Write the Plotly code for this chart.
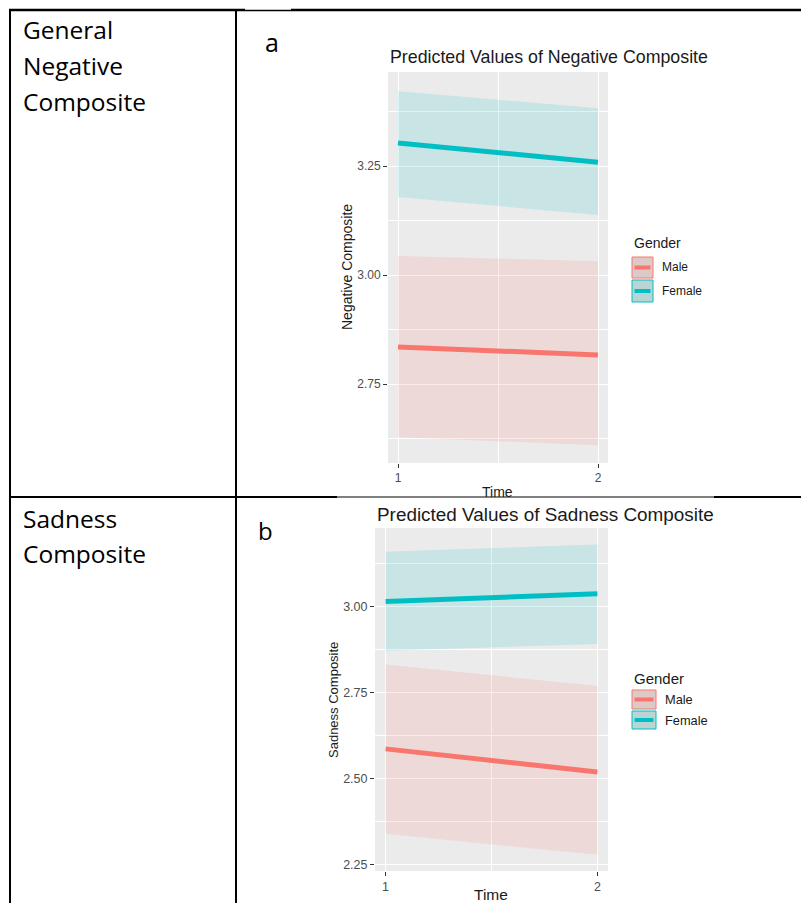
import plotly.graph_objects as go

W, H = 801, 903

# ---------------- data ----------------
time = [1, 2]
time_labels = ["1", "2"]
genders = ["Male", "Female"]
colors = {"Male": "#F8766D", "Female": "#00BFC4"}
bands = {"Male": "rgba(248,118,109,0.15)", "Female": "rgba(0,191,196,0.15)"}

neg_male = [2.835, 2.817]
neg_male_lo = [2.628, 2.610]
neg_male_hi = [3.044, 3.032]
neg_female = [3.303, 3.259]
neg_female_lo = [3.179, 3.138]
neg_female_hi = [3.422, 3.383]

sad_male = [2.587, 2.520]
sad_male_lo = [2.340, 2.279]
sad_male_hi = [2.832, 2.770]
sad_female = [3.015, 3.038]
sad_female_lo = [2.872, 2.892]
sad_female_hi = [3.160, 3.181]

row_labels = [["General", "Negative", "Composite"], ["Sadness", "Composite"]]
panel_letters = ["a", "b"]
titles = ["Predicted Values of Negative Composite", "Predicted Values of Sadness Composite"]
ytitles = ["Negative Composite", "Sadness Composite"]


def px(x):
    return x / W


def py(y):
    return 1 - y / H


fig = go.Figure()

series = [
    ("x", "y", {"Male": (neg_male, neg_male_lo, neg_male_hi),
                "Female": (neg_female, neg_female_lo, neg_female_hi)}),
    ("x2", "y2", {"Male": (sad_male, sad_male_lo, sad_male_hi),
                  "Female": (sad_female, sad_female_lo, sad_female_hi)}),
]

for xa, ya, d in series:
    for g in genders:
        mid, lo, hi = d[g]
        fig.add_trace(go.Scatter(
            x=time + time[::-1], y=hi + lo[::-1], fill="toself",
            fillcolor=bands[g], line=dict(width=0), mode="lines",
            hoverinfo="skip", showlegend=False, xaxis=xa, yaxis=ya))
    for g in genders:
        mid, lo, hi = d[g]
        fig.add_trace(go.Scatter(
            x=time, y=mid, mode="lines", name=g,
            line=dict(color=colors[g], width=5),
            showlegend=False, xaxis=xa, yaxis=ya))

FONT = "Liberation Sans, Arial, sans-serif"

def yaxis_cfg(domain, rng, fs):
    return dict(domain=domain, range=rng, tickmode="linear", tick0=0, dtick=0.25,
                tickformat=".2f", ticks="outside", ticklen=4, tickcolor="#333333",
                tickwidth=1, showgrid=True, gridcolor="white", gridwidth=1.2,
                zeroline=False, showline=False,
                tickfont=dict(family=FONT, size=fs, color="#4D4D4D"),
                minor=dict(tickmode="linear", tick0=0, dtick=0.125, showgrid=True,
                           gridcolor="white", gridwidth=0.6))

def xaxis_cfg(domain, anchor, fs):
    return dict(domain=domain, anchor=anchor, range=[0.95, 2.05], tickmode="array",
                tickvals=time, ticktext=time_labels, ticks="outside", ticklen=4,
                tickcolor="#333333", tickwidth=1, showgrid=True, gridcolor="white",
                gridwidth=1.2, zeroline=False, showline=False,
                tickfont=dict(family=FONT, size=fs, color="#4D4D4D"),
                minor=dict(tickvals=[1.5], showgrid=True, gridcolor="white", gridwidth=0.6))

fig.update_layout(
    width=W, height=H, margin=dict(l=0, r=0, t=0, b=0),
    paper_bgcolor="white", plot_bgcolor="#EBEBEB", showlegend=False,
    xaxis=xaxis_cfg([px(388), px(608)], "y", 12),
    yaxis=dict(anchor="x", **yaxis_cfg([py(463), py(72)], [2.569, 3.466], 12)),
    xaxis2=xaxis_cfg([px(375), px(608)], "y2", 12.5),
    yaxis2=dict(anchor="x2", **yaxis_cfg([py(871), py(528)], [2.232, 3.229], 12.5)),
)

ann = []

def text(t, x, y, size, family=FONT, color="#1A1A1A", xanchor="left", angle=0):
    ann.append(dict(text=t, x=px(x), y=py(y), xref="paper", yref="paper",
                    xanchor=xanchor, yanchor="middle", showarrow=False, textangle=angle,
                    font=dict(family=family, size=size, color=color)))

TFONT = "Open Sans, sans-serif"
# left column labels
for i, w in enumerate(row_labels[0]):
    text(w, 21, 30 + 35.5 * i, 24.5, family=TFONT, color="black")
for i, w in enumerate(row_labels[1]):
    text(w, 21, 518 + 35.5 * i, 24.5, family=TFONT, color="black")
text(panel_letters[0], 263, 42, 25, family=TFONT, color="black")
text(panel_letters[1], 256, 530, 24, family=TFONT, color="black")

# chart titles
text(titles[0], 388, 57, 17.8)
text(titles[1], 375, 514, 18.9)
# axis titles
text(ytitles[0], 347, 267, 14, xanchor="center", angle=-90)
text(ytitles[1], 333, 700, 13, xanchor="center", angle=-90)
text("Time", 498, 492, 14, xanchor="center")
text("Time", 491, 894, 15.5, xanchor="center")

shapes = []

def rect(x0, y0, x1, y1, fill, line=None, lw=0):
    shapes.append(dict(type="rect", xref="paper", yref="paper",
                       x0=px(x0), x1=px(x1), y0=py(y0), y1=py(y1),
                       fillcolor=fill, line=dict(color=line or fill, width=lw),
                       layer="above"))

def seg(x0, y0, x1, y1, color="black", w=2):
    shapes.append(dict(type="line", xref="paper", yref="paper",
                       x0=px(x0), x1=px(x1), y0=py(y0), y1=py(y1),
                       line=dict(color=color, width=w), layer="above"))

# legends
legends = [
    dict(title_y=243, x0=632, x1=653, keys=[(257, 278), (280, 302)], lx=660, fs=12, tfs=14),
    dict(title_y=678, x0=632, x1=656, keys=[(690, 709), (711, 729)], lx=663, fs=12.8, tfs=15),
]
for lg in legends:
    text("Gender", lg["x0"], lg["title_y"], lg["tfs"])
    for g, (k0, k1) in zip(genders, lg["keys"]):
        rect(lg["x0"], k0, lg["x1"], k1, "#D9D9D9")
        rect(lg["x0"], k0, lg["x1"], k1, bands[g], line=colors[g], lw=1)
        seg(lg["x0"] + 2.5, (k0 + k1) / 2, lg["x1"] - 2.5, (k0 + k1) / 2, color=colors[g], w=4)
        text(g, lg["lx"], (k0 + k1) / 2, lg["fs"])

# table borders
seg(9, 10, 801, 10, w=2.5)
rect(245, 7.5, 291, 9.8, "white")
seg(10, 9, 10, 903, w=2)
seg(236, 9, 236, 903, w=2)
seg(9, 497, 337, 497, w=2)
seg(337, 497, 714, 497, w=1)
seg(714, 497, 801, 497, w=2)

fig.update_layout(annotations=ann, shapes=shapes)
fig.write_html("out.html", config={"displayModeBar": False},
               post_script="document.body.style.margin='0px';document.body.style.overflow='hidden';")
